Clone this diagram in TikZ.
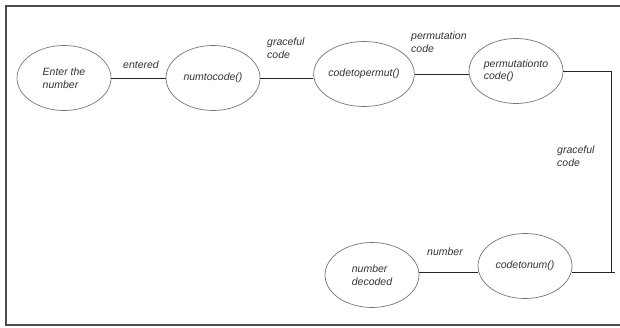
\documentclass[tikz,border=0pt]{standalone}
\usepackage{fontspec}
\setmainfont{Liberation Sans}
\usetikzlibrary{shapes.geometric}
\begin{document}
\begin{tikzpicture}[x=1pt,y=1pt,
  proc/.style={ellipse,draw=black!55,line width=0.7pt,minimum width=94pt,minimum height=65pt,inner sep=0pt,
    font=\fontsize{10.5}{12.5}\selectfont\itshape,text=black!80,align=left},
  lbl/.style={font=\fontsize{10.5}{12.5}\selectfont\itshape,text=black!80,align=left,inner sep=0pt},
  conn/.style={draw=black!85,line width=0.9pt},
  frame/.style={draw=black!70,line width=2pt}]
\useasboundingbox (0,0) rectangle (620,327);
% frame
\draw[frame] (640,321) -- (6,321) -- (6,2) -- (640,2);
% nodes
\node[proc] (e1) at (64,249) {Enter the\\number};
\node[proc] (e2) at (213,249) {numtocode()};
\node[proc] (e3) at (364,253) {codetopermut()};
\node[proc] (e4) at (516,256) {permutationto\\code()};
\node[proc] (e5) at (525,61) {codetonum()};
\node[proc] (e6) at (372,52) {number\\decoded};
\coordinate (c1) at (611,256);
\coordinate (c2) at (611,55);
\coordinate (c3) at (615,55);
% connectors
\draw[conn] (e1.east) -- (e2.west);
\draw[conn] (e2.east) -- (e2.east -| e3.west);
\draw[conn] (e3.east) -- (e3.east -| e4.west);
\draw[conn] (e4.east) -- (e4.east -| c1) -- (c2);
\draw[conn] (e5.east |- c3) -- (c3);
\draw[conn] (e6.east |- c3) -- (e5.west |- c3);
% labels
\node[lbl,anchor=west] (l1) at (123,262) {entered};
\node[lbl,anchor=north west] (l2) at (267,289) {graceful\\code};
\node[lbl,anchor=north west] (l3) at (411,295) {permutation\\code};
\node[lbl,anchor=north west] (l4) at (557,181) {graceful\\code};
\node[lbl,anchor=west] (l5) at (427,75) {number};
\end{tikzpicture}
\end{document}
